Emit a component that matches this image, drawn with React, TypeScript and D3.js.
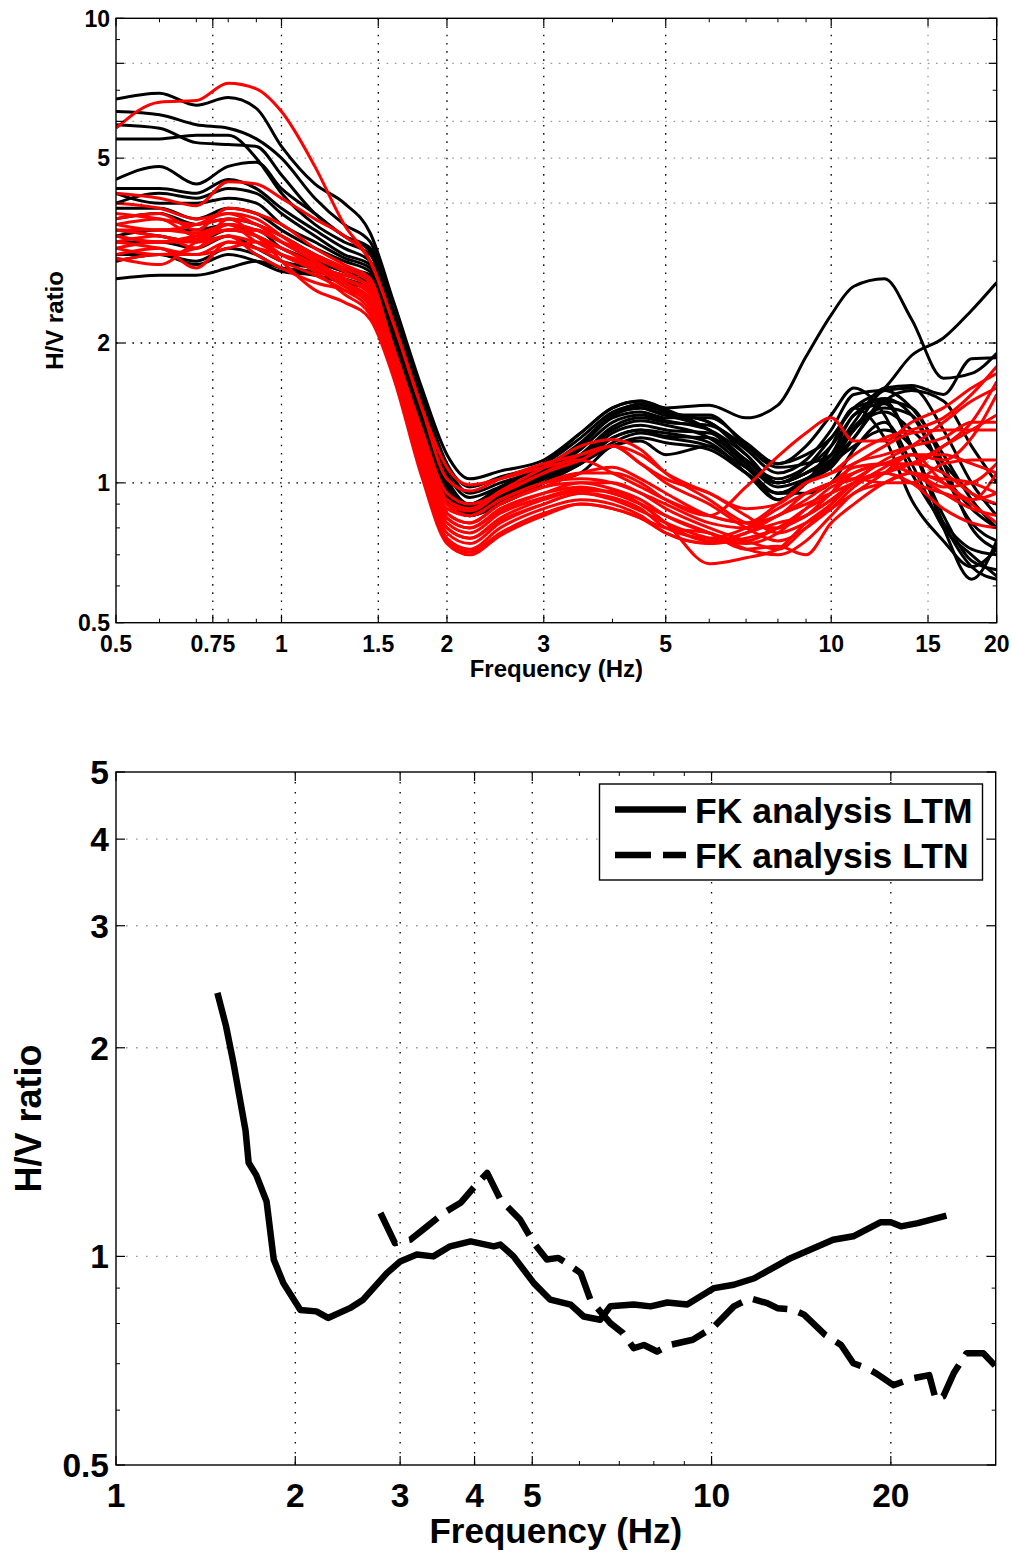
import React from "react";
import * as d3 from "d3";

// ---------- Top panel data ----------
const TOP_FREQ = [0.5, 0.6, 0.7, 0.8, 0.9, 1.0, 1.15, 1.3, 1.45, 1.6, 1.8, 2.0, 2.2, 2.5, 3.0, 3.5, 4.0, 4.5, 5.0, 6.0, 7.0, 8.0, 9.0, 10, 11, 12.5, 14, 16, 18, 20];

const BLACK_SERIES: number[][] = [
  [6.7, 6.9, 6.5, 6.75, 6.4, 5.3, 4.4, 4.0, 3.45, 2.45, 1.6, 1.15, 1.02, 1.06, 1.12, 1.28, 1.45, 1.5, 1.44, 1.3, 1.12, 1.02, 1.08, 1.2, 1.4, 1.52, 1.4, 1.05, 0.82, 0.75],
  [6.3, 6.2, 5.9, 5.8, 5.5, 5.0, 4.1, 3.6, 3.3, 2.35, 1.55, 1.1, 0.98, 1.03, 1.1, 1.25, 1.42, 1.47, 1.42, 1.35, 1.18, 1.05, 1.12, 1.3, 1.55, 1.58, 1.45, 1.15, 0.92, 0.8],
  [5.9, 5.8, 5.4, 5.35, 5.3, 4.6, 3.8, 3.4, 3.2, 2.3, 1.5, 1.08, 0.95, 1.0, 1.08, 1.22, 1.4, 1.45, 1.4, 1.4, 1.2, 1.08, 1.1, 1.15, 1.3, 1.58, 1.6, 1.3, 1.0, 0.85],
  [5.5, 5.5, 5.6, 5.6, 5.0, 4.2, 3.6, 3.3, 3.1, 2.25, 1.48, 1.05, 0.93, 0.98, 1.06, 1.2, 1.38, 1.42, 1.38, 1.38, 1.22, 1.1, 1.15, 1.25, 1.45, 1.5, 1.2, 0.85, 0.68, 0.65],
  [4.5, 4.8, 4.4, 4.8, 4.9, 4.3, 3.8, 3.4, 3.15, 2.2, 1.45, 1.02, 0.9, 0.97, 1.05, 1.18, 1.35, 1.4, 1.36, 1.3, 1.15, 1.0, 1.05, 1.15, 1.4, 1.48, 1.2, 0.82, 0.66, 0.62],
  [4.3, 4.3, 4.2, 4.5, 4.3, 3.9, 3.5, 3.2, 3.0, 2.15, 1.42, 1.0, 0.88, 0.95, 1.04, 1.15, 1.32, 1.38, 1.35, 1.33, 1.2, 1.1, 1.2, 1.4, 1.6, 1.4, 1.05, 0.82, 0.72, 0.7],
  [4.2, 4.0, 4.0, 4.1, 4.0, 3.6, 3.3, 3.05, 2.9, 2.1, 1.4, 0.98, 0.88, 0.94, 1.03, 1.14, 1.3, 1.36, 1.33, 1.25, 1.08, 0.95, 1.0, 1.1, 1.3, 1.42, 1.3, 1.1, 0.95, 0.9],
  [3.7, 3.8, 3.6, 3.7, 3.6, 3.4, 3.1, 2.9, 2.8, 2.05, 1.38, 0.97, 0.87, 0.93, 1.02, 1.12, 1.28, 1.33, 1.3, 1.28, 1.12, 1.0, 1.05, 1.15, 1.35, 1.6, 1.62, 1.55, 1.85, 1.86],
  [3.5, 3.4, 3.3, 3.5, 3.5, 3.2, 3.0, 2.85, 2.75, 2.0, 1.36, 0.96, 0.86, 0.92, 1.02, 1.1, 1.25, 1.3, 1.28, 1.22, 1.05, 0.92, 1.0, 1.2, 1.45, 1.25, 0.92, 0.75, 0.66, 0.72],
  [3.3, 3.3, 3.2, 3.4, 3.2, 3.0, 2.9, 2.8, 2.7, 1.98, 1.35, 0.95, 0.86, 0.91, 1.0, 1.1, 1.22, 1.28, 1.25, 1.2, 1.08, 1.0, 1.08, 1.25, 1.45, 1.6, 1.88, 2.05, 2.35, 2.7],
  [3.1, 3.1, 2.95, 3.1, 3.0, 2.85, 2.8, 2.7, 2.65, 1.95, 1.33, 0.93, 0.85, 0.9, 1.0, 1.12, 1.25, 1.3, 1.26, 1.25, 1.1, 0.98, 1.02, 1.08, 1.25, 1.5, 1.58, 1.5, 1.2, 1.0],
  [2.75, 2.8, 2.8, 2.9, 3.0, 2.9, 2.8, 2.7, 2.6, 1.92, 1.32, 0.92, 0.85, 0.9, 1.0, 1.1, 1.2, 1.25, 1.22, 1.18, 1.05, 0.95, 0.95, 1.0, 1.18, 1.35, 1.1, 0.8, 0.7, 0.63],
  [3.4, 3.5, 3.5, 3.6, 3.4, 3.2, 3.0, 2.85, 2.75, 2.0, 1.36, 0.98, 0.9, 0.98, 1.1, 1.28, 1.45, 1.5, 1.45, 1.47, 1.38, 1.47, 1.87, 2.3, 2.65, 2.75, 2.25, 1.68, 1.72, 1.9],
  [3.9, 3.9, 3.7, 3.9, 3.8, 3.5, 3.2, 3.0, 2.85, 2.05, 1.38, 0.97, 0.88, 0.95, 1.05, 1.2, 1.4, 1.45, 1.4, 1.3, 1.1, 0.92, 1.0, 1.1, 1.2, 1.3, 1.2, 0.8, 0.62, 0.75],
  [3.0, 3.1, 3.0, 3.2, 3.1, 2.9, 2.85, 2.75, 2.62, 1.95, 1.32, 0.93, 0.86, 0.92, 1.0, 1.05, 1.2, 1.23, 1.15, 1.2, 1.05, 0.95, 1.02, 1.12, 1.32, 1.45, 1.4, 1.05, 0.88, 0.8],
  [4.0, 4.2, 4.1, 4.3, 4.2, 3.8, 3.4, 3.1, 2.95, 2.1, 1.4, 0.99, 0.89, 0.96, 1.06, 1.2, 1.4, 1.48, 1.42, 1.35, 1.15, 1.0, 1.05, 1.12, 1.25, 1.5, 1.45, 1.1, 0.8, 0.72],
];

const RED_SERIES: number[][] = [
  [5.8, 6.6, 6.65, 7.25, 7.05, 6.3, 4.8, 3.6, 3.0, 2.2, 1.45, 1.08, 0.99, 1.02, 1.08, 1.12, 1.05, 0.98, 0.92, 0.85, 0.82, 0.9, 1.0, 1.05, 1.15, 1.25, 1.3, 1.38, 1.55, 1.78],
  [4.2, 4.1, 3.95, 4.45, 4.4, 4.1, 3.7, 3.4, 3.0, 2.2, 1.45, 1.02, 0.96, 1.02, 1.1, 1.15, 1.2, 1.1, 1.02, 0.95, 0.85, 0.78, 0.82, 0.88, 0.95, 1.05, 1.15, 1.12, 1.25, 1.55],
  [4.0, 3.9, 3.7, 3.8, 3.6, 3.4, 3.1, 2.9, 2.7, 1.95, 1.3, 0.95, 0.9, 0.95, 1.05, 1.12, 1.2, 1.1, 1.0, 0.9, 0.8, 0.75, 0.8, 0.9, 1.0, 1.1, 1.1, 1.2, 1.35, 1.65],
  [3.7, 3.8, 3.5, 3.9, 3.8, 3.6, 3.2, 2.95, 2.75, 1.9, 1.25, 0.9, 0.85, 0.92, 1.0, 1.02, 1.0, 0.95, 0.9, 0.82, 0.8, 0.85, 0.92, 1.0, 1.05, 1.1, 1.05, 0.95, 0.88, 0.85],
  [3.6, 3.5, 3.6, 3.8, 3.7, 3.4, 3.05, 2.85, 2.6, 1.85, 1.2, 0.86, 0.82, 0.9, 0.98, 1.0, 0.97, 0.92, 0.85, 0.78, 0.75, 0.8, 0.85, 0.95, 1.05, 1.1, 1.15, 1.0, 0.9, 0.82],
  [3.5, 3.4, 3.3, 3.6, 3.5, 3.3, 3.0, 2.75, 2.55, 1.82, 1.18, 0.84, 0.8, 0.88, 0.95, 0.98, 0.95, 0.9, 0.82, 0.67, 0.69, 0.72, 0.82, 0.9, 1.0, 1.05, 1.1, 1.05, 0.95, 0.9],
  [3.4, 3.3, 3.35, 3.5, 3.4, 3.2, 2.95, 2.7, 2.5, 1.8, 1.15, 0.82, 0.78, 0.86, 0.93, 0.97, 0.95, 0.9, 0.85, 0.78, 0.72, 0.73, 0.7, 0.82, 0.9, 1.0, 1.05, 1.0, 0.92, 1.05],
  [3.3, 3.4, 3.2, 3.7, 3.6, 3.3, 3.0, 2.7, 2.45, 1.78, 1.12, 0.8, 0.76, 0.84, 0.92, 0.96, 0.96, 0.9, 0.82, 0.75, 0.78, 0.85, 0.9, 0.95, 1.0, 1.05, 1.1, 1.2, 1.3, 1.4],
  [3.2, 3.1, 3.2, 3.4, 3.3, 3.2, 2.9, 2.65, 2.4, 1.75, 1.1, 0.78, 0.74, 0.82, 0.9, 0.95, 0.93, 0.88, 0.8, 0.76, 0.8, 0.88, 0.95, 1.0, 1.02, 1.0, 1.0, 1.1, 1.12, 1.12],
  [3.1, 3.2, 2.9, 3.3, 3.2, 3.0, 2.8, 2.6, 2.35, 1.72, 1.08, 0.76, 0.72, 0.8, 0.88, 0.92, 0.9, 0.85, 0.78, 0.74, 0.78, 0.82, 0.85, 0.92, 1.0, 1.05, 1.0, 0.88, 0.82, 0.8],
  [3.0, 3.1, 3.1, 3.2, 3.3, 3.1, 2.85, 2.55, 2.3, 1.7, 1.05, 0.75, 0.71, 0.78, 0.86, 0.9, 0.88, 0.84, 0.78, 0.74, 0.76, 0.8, 0.88, 0.95, 1.1, 1.15, 1.2, 1.25, 1.35, 1.35],
  [3.05, 2.95, 3.3, 3.5, 3.4, 3.0, 2.6, 2.45, 2.25, 1.68, 1.03, 0.74, 0.7, 0.77, 0.85, 0.9, 0.88, 0.84, 0.8, 0.78, 0.72, 0.7, 0.75, 0.85, 0.95, 1.0, 1.05, 0.98, 1.0, 1.1],
  [3.8, 3.7, 3.6, 3.7, 3.4, 3.1, 2.9, 2.8, 2.65, 1.9, 1.25, 0.9, 0.87, 0.95, 1.05, 1.15, 1.2, 1.15, 1.05, 0.95, 0.88, 0.9, 1.0, 1.05, 1.1, 1.2, 1.28, 1.3, 1.3, 1.3],
  [3.6, 3.7, 3.4, 3.6, 3.5, 3.3, 3.1, 2.9, 2.7, 1.9, 1.28, 0.92, 0.88, 0.96, 1.08, 1.2, 1.24, 1.18, 1.05, 0.92, 0.82, 0.8, 0.85, 0.92, 1.0, 1.05, 1.0, 0.95, 0.92, 0.95],
  [3.4, 3.3, 3.4, 3.5, 3.5, 3.3, 3.0, 2.75, 2.6, 1.85, 1.2, 0.88, 0.85, 0.92, 1.0, 1.05, 1.05, 1.0, 0.92, 0.85, 0.98, 1.14, 1.28, 1.38, 1.23, 1.23, 1.35, 1.45, 1.6, 1.72],
  [3.3, 3.2, 3.1, 3.3, 3.2, 3.1, 2.9, 2.65, 2.5, 1.8, 1.15, 0.84, 0.8, 0.87, 0.95, 1.0, 1.0, 0.95, 0.88, 0.8, 0.75, 0.72, 0.8, 0.88, 0.98, 1.08, 1.15, 1.15, 1.1, 1.05],
  [3.2, 3.3, 3.3, 3.4, 3.1, 2.9, 2.7, 2.6, 2.45, 1.75, 1.12, 0.8, 0.76, 0.83, 0.9, 0.95, 0.92, 0.87, 0.82, 0.76, 0.74, 0.78, 0.88, 0.98, 1.02, 1.12, 1.2, 1.35, 1.5, 1.6],
  [3.5, 3.5, 3.45, 3.6, 3.3, 3.1, 2.95, 2.75, 2.55, 1.82, 1.18, 0.86, 0.82, 0.9, 0.98, 1.05, 1.08, 1.02, 0.95, 0.85, 0.82, 0.85, 0.95, 1.0, 1.08, 1.1, 1.05, 1.02, 1.0, 0.95],
];

const TOP_XTICKS = [0.5, 0.75, 1, 1.5, 2, 3, 5, 10, 15, 20];
const TOP_XGRID = [0.75, 1, 1.5, 2, 3, 5, 10, 15];
const TOP_XGRID_LIGHT = [15];
const TOP_YTICKS = [0.5, 1, 2, 4, 5, 6, 8, 10];
const TOP_YLABELS = [0.5, 1, 2, 5, 10];
const TOP_YGRID = [1, 2, 4, 5, 6, 8];
const TOP_YGRID_LIGHT = [4, 5, 6, 8];

// ---------- Bottom panel data ----------
const LTM_FREQ = [1.48, 1.53, 1.575, 1.65, 1.67, 1.72, 1.79, 1.84, 1.91, 2.04, 2.17, 2.27, 2.47, 2.6, 2.85, 3.0, 3.2, 3.41, 3.64, 3.94, 4.31, 4.42, 4.65, 5.03, 5.36, 5.8, 6.1, 6.5, 6.76, 7.4, 7.9, 8.43, 9.1, 10.1, 10.9, 11.8, 13.6, 16.0, 17.3, 19.2, 20.0, 20.8, 22.2, 24.8];
const LTM_HV = [2.4, 2.15, 1.9, 1.52, 1.365, 1.31, 1.2, 0.99, 0.915, 0.837, 0.833, 0.815, 0.842, 0.866, 0.946, 0.983, 1.006, 1.0, 1.034, 1.051, 1.034, 1.04, 1.0, 0.915, 0.866, 0.852, 0.819, 0.81, 0.847, 0.852, 0.847, 0.858, 0.852, 0.9, 0.91, 0.93, 0.995, 1.057, 1.069, 1.12, 1.12, 1.105, 1.117, 1.145];

const LTN_FREQ = [2.78, 2.94, 3.12, 3.33, 3.55, 3.79, 3.98, 4.2, 4.42, 4.77, 5.03, 5.29, 5.53, 5.71, 6.03, 6.26, 6.5, 6.76, 7.1, 7.4, 7.7, 8.1, 8.5, 9.3, 10.1, 10.9, 11.6, 12.4, 12.9, 13.7, 14.3, 15.5, 16.5, 17.3, 18.2, 18.9, 20.2, 21.8, 23.2, 23.8, 24.5, 25.5, 26.8, 28.6, 30];
const LTN_HV = [1.155, 1.045, 1.057, 1.105, 1.155, 1.195, 1.255, 1.32, 1.208, 1.13, 1.045, 0.99, 0.995, 0.978, 0.946, 0.866, 0.833, 0.801, 0.775, 0.737, 0.745, 0.729, 0.745, 0.758, 0.792, 0.847, 0.87, 0.856, 0.842, 0.838, 0.824, 0.771, 0.745, 0.701, 0.69, 0.678, 0.652, 0.667, 0.674, 0.621, 0.628, 0.678, 0.725, 0.725, 0.694];

const BOT_XTICKS = [1, 2, 3, 4, 5, 10, 20];
const BOT_XGRID = [2, 3, 4, 5, 10, 20];
const BOT_YTICKS = [0.5, 1, 2, 3, 4, 5];
const BOT_YGRID = [1, 2, 3, 4];
const LEGEND_LABELS = ["FK analysis LTM", "FK analysis LTN"];

const FONT = "'Liberation Sans', Arial, Helvetica, sans-serif";

function minorValues(domain: [number, number], majors: number[]) {
  const out: number[] = [];
  for (let e = -2; e <= 2; e++) {
    for (let k = 1; k <= 9; k++) {
      const v = +(k * Math.pow(10, e)).toPrecision(6);
      if (v > domain[0] && v < domain[1] && !majors.some((m) => Math.abs(m - v) < 1e-9)) out.push(v);
    }
  }
  return out;
}

export default function App() {
  // top scales
  const tL = 116, tR = 996.7, tT = 18.3, tB = 622.7;
  const xT = d3.scaleLog().domain([0.5, 20]).range([tL, tR]);
  const yT = d3.scaleLog().domain([0.5, 10]).range([tB, tT]);
  // bottom scales
  const bL = 116, bR = 995.7, bT = 772, bB = 1465;
  const xB = d3.scaleLog().domain([1, 30]).range([bL, bR]);
  const yB = d3.scaleLog().domain([0.5, 5]).range([bB, bT]);

  const topLine = d3
    .line<number>()
    .x((_, i) => xT(TOP_FREQ[i]))
    .y((v) => yT(v))
    .curve(d3.curveMonotoneX);

  const ltmLine = d3
    .line<number>()
    .x((_, i) => xB(LTM_FREQ[i]))
    .y((v) => yB(v));
  const ltnLine = d3
    .line<number>()
    .x((_, i) => xB(LTN_FREQ[i]))
    .y((v) => yB(v));

  const topMinorX = minorValues([0.5, 20], TOP_XTICKS);
  const topMinorY = minorValues([0.5, 10], TOP_YTICKS);
  const botMinorX = minorValues([1, 30], BOT_XTICKS);
  const botMinorY = minorValues([0.5, 5], BOT_YTICKS);

  const tickLenT = 8, tickLenB = 9, minorLen = 4;

  return (
    <svg
      width={1012}
      height={1553}
      style={{ position: "absolute", left: 0, top: 0, background: "#fff" }}
      fontFamily={FONT}
      fontWeight="bold"
    >
      <defs>
        <clipPath id="clipTop">
          <rect x={tL} y={tT} width={tR - tL} height={tB - tT} />
        </clipPath>
        <clipPath id="clipBot">
          <rect x={bL} y={bT} width={bR - bL} height={bB - bT} />
        </clipPath>
      </defs>
      <rect x={0} y={0} width={1012} height={1553} fill="#fff" />

      {/* ===== TOP PANEL ===== */}
      <g>
        {TOP_XGRID.map((f) => (
          <line
            key={"txg" + f}
            x1={xT(f)}
            x2={xT(f)}
            y1={tT}
            y2={tB}
            stroke={TOP_XGRID_LIGHT.includes(f) ? "#9a9a9a" : "#000"}
            strokeWidth={1.3}
            strokeDasharray="1.6,6.6"
          />
        ))}
        {TOP_YGRID.map((v) => (
          <line
            key={"tyg" + v}
            x1={tL}
            x2={tR}
            y1={yT(v)}
            y2={yT(v)}
            stroke={TOP_YGRID_LIGHT.includes(v) ? "#9a9a9a" : "#000"}
            strokeWidth={1.3}
            strokeDasharray="1.6,6.6"
          />
        ))}
        <g clipPath="url(#clipTop)" fill="none" strokeLinejoin="round" strokeWidth={3}>
          {BLACK_SERIES.map((s, i) => (
            <path key={"b" + i} d={topLine(s) || ""} stroke="#000" />
          ))}
          {RED_SERIES.map((s, i) => (
            <path key={"r" + i} d={topLine(s) || ""} stroke="#ff0000" />
          ))}
        </g>
        {/* ticks */}
        {TOP_XTICKS.map((f) => (
          <g key={"txt" + f}>
            <line x1={xT(f)} x2={xT(f)} y1={tB} y2={tB - tickLenT} stroke="#000" strokeWidth={1.2} />
            <line x1={xT(f)} x2={xT(f)} y1={tT} y2={tT + tickLenT} stroke="#000" strokeWidth={1.2} />
            <text x={xT(f)} y={651.7} fontSize={23} textAnchor="middle">
              {String(f)}
            </text>
          </g>
        ))}
        {topMinorX.map((f) => (
          <g key={"tmx" + f}>
            <line x1={xT(f)} x2={xT(f)} y1={tB} y2={tB - minorLen} stroke="#000" strokeWidth={1} />
            <line x1={xT(f)} x2={xT(f)} y1={tT} y2={tT + minorLen} stroke="#000" strokeWidth={1} />
          </g>
        ))}
        {TOP_YTICKS.map((v) => (
          <g key={"tyt" + v}>
            <line x1={tL} x2={tL + tickLenT} y1={yT(v)} y2={yT(v)} stroke="#000" strokeWidth={1.2} />
            <line x1={tR} x2={tR - tickLenT} y1={yT(v)} y2={yT(v)} stroke="#000" strokeWidth={1.2} />
          </g>
        ))}
        {topMinorY.map((v) => (
          <g key={"tmy" + v}>
            <line x1={tL} x2={tL + minorLen} y1={yT(v)} y2={yT(v)} stroke="#000" strokeWidth={1} />
            <line x1={tR} x2={tR - minorLen} y1={yT(v)} y2={yT(v)} stroke="#000" strokeWidth={1} />
          </g>
        ))}
        {TOP_YLABELS.map((v) => (
          <text key={"tyl" + v} x={110} y={yT(v) + 8.3} fontSize={23} textAnchor="end">
            {String(v)}
          </text>
        ))}
        <rect x={tL} y={tT} width={tR - tL} height={tB - tT} fill="none" stroke="#000" strokeWidth={1.4} />
        <text x={(tL + tR) / 2} y={677} fontSize={24} textAnchor="middle">
          Frequency (Hz)
        </text>
        <text
          transform={`translate(63,${(tT + tB) / 2}) rotate(-90)`}
          fontSize={24}
          textAnchor="middle"
        >
          H/V ratio
        </text>
      </g>

      {/* ===== BOTTOM PANEL ===== */}
      <g>
        {BOT_XGRID.map((f) => (
          <line
            key={"bxg" + f}
            x1={xB(f)}
            x2={xB(f)}
            y1={bT}
            y2={bB}
            stroke="#000"
            strokeWidth={1.3}
            strokeDasharray="1.6,8.4"
          />
        ))}
        {BOT_YGRID.map((v) => (
          <line
            key={"byg" + v}
            x1={bL}
            x2={bR}
            y1={yB(v)}
            y2={yB(v)}
            stroke="#9a9a9a"
            strokeWidth={1.3}
            strokeDasharray="1.6,8.4"
          />
        ))}
        <g clipPath="url(#clipBot)" fill="none" strokeWidth={6.5} stroke="#000">
          <path d={ltmLine(LTM_HV) || ""} strokeLinejoin="round" />
          <path d={ltnLine(LTN_HV) || ""} strokeDasharray="36,12" strokeLinejoin="round" />
        </g>
        {BOT_XTICKS.map((f) => (
          <g key={"bxt" + f}>
            <line x1={xB(f)} x2={xB(f)} y1={bB} y2={bB - tickLenB} stroke="#000" strokeWidth={1.2} />
            <line x1={xB(f)} x2={xB(f)} y1={bT} y2={bT + tickLenB} stroke="#000" strokeWidth={1.2} />
            <text x={xB(f)} y={1506.5} fontSize={33.5} textAnchor="middle">
              {String(f)}
            </text>
          </g>
        ))}
        {botMinorX.map((f) => (
          <g key={"bmx" + f}>
            <line x1={xB(f)} x2={xB(f)} y1={bB} y2={bB - minorLen} stroke="#000" strokeWidth={1} />
            <line x1={xB(f)} x2={xB(f)} y1={bT} y2={bT + minorLen} stroke="#000" strokeWidth={1} />
          </g>
        ))}
        {BOT_YTICKS.map((v) => (
          <g key={"byt" + v}>
            <line x1={bL} x2={bL + tickLenB} y1={yB(v)} y2={yB(v)} stroke="#000" strokeWidth={1.2} />
            <line x1={bR} x2={bR - tickLenB} y1={yB(v)} y2={yB(v)} stroke="#000" strokeWidth={1.2} />
            <text x={109} y={yB(v) + 12} fontSize={33.5} textAnchor="end">
              {String(v)}
            </text>
          </g>
        ))}
        {botMinorY.map((v) => (
          <g key={"bmy" + v}>
            <line x1={bL} x2={bL + minorLen} y1={yB(v)} y2={yB(v)} stroke="#000" strokeWidth={1} />
            <line x1={bR} x2={bR - minorLen} y1={yB(v)} y2={yB(v)} stroke="#000" strokeWidth={1} />
          </g>
        ))}
        <rect x={bL} y={bT} width={bR - bL} height={bB - bT} fill="none" stroke="#000" strokeWidth={1.4} />
        <text x={(bL + bR) / 2} y={1543} fontSize={35} textAnchor="middle">
          Frequency (Hz)
        </text>
        <text
          transform={`translate(41,${(bT + bB) / 2}) rotate(-90)`}
          fontSize={36}
          textAnchor="middle"
        >
          H/V ratio
        </text>

        {/* legend */}
        <rect x={599.5} y={784} width={383} height={96} fill="#fff" stroke="#000" strokeWidth={1.4} />
        <line x1={615} x2={686} y1={809.5} y2={809.5} stroke="#000" strokeWidth={6.5} />
        <line x1={615} x2={686} y1={855} y2={855} stroke="#000" strokeWidth={6.5} strokeDasharray="36,12" />
        <text x={695} y={822.5} fontSize={35.5}>
          {LEGEND_LABELS[0]}
        </text>
        <text x={695} y={868} fontSize={35.5}>
          {LEGEND_LABELS[1]}
        </text>
      </g>
    </svg>
  );
}
